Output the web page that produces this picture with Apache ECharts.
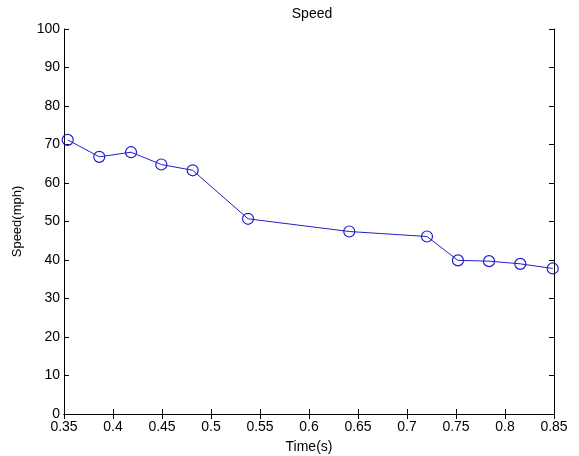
<!DOCTYPE html>
<html><head><meta charset="utf-8">
<script src="https://cdn.jsdelivr.net/npm/echarts@6/dist/echarts.min.js"></script>
<style>html,body{margin:0;padding:0;background:#fff}#c{width:579px;height:456px}</style>
</head><body><div id="c"></div>
<script>
var timeS = [0.3538, 0.386, 0.4184, 0.4493, 0.4813, 0.5378, 0.6411, 0.7204, 0.752, 0.7837, 0.8156, 0.8487];
var speedMph = [71.2, 66.8, 68.0, 64.8, 63.3, 50.7, 47.4, 46.1, 39.9, 39.7, 39.0, 37.8];
var xTicks = [0.35, 0.85, 0.05];
var yTicks = [0, 100, 10];

var data = timeS.map(function (t, i) { return [t, speedMph[i]]; });
var font = 'Liberation Sans, Arial, sans-serif';
var blue = '#2020c8';
function axisCommon(show) {
  return {
    axisLine: { show: true, lineStyle: { color: '#000', width: 1 } },
    axisTick: { show: true, inside: true, length: 5, lineStyle: { color: '#000' } },
    axisLabel: { show: show, color: '#000', fontFamily: font, fontSize: 14 },
    splitLine: { show: false }
  };
}
var chart = echarts.init(document.getElementById('c'), null, { renderer: 'canvas' });
chart.setOption({
  animation: false,
  backgroundColor: '#fff',
  title: { text: 'Speed', left: 307, top: 2, textAlign: 'center',
    textStyle: { fontFamily: font, fontSize: 14, fontWeight: 'normal', color: '#000' } },
  grid: { left: 64, right: 25, top: 29, bottom: 42, outerBoundsMode: 'none', containLabel: false },
  xAxis: [
    Object.assign(axisCommon(true), { type: 'value', min: xTicks[0], max: xTicks[1], interval: xTicks[2],
      name: 'Time(s)', nameLocation: 'middle', nameGap: 26,
      nameTextStyle: { fontFamily: font, fontSize: 14, color: '#000' },
      axisLabel: { show: true, color: '#000', fontFamily: font, fontSize: 14, margin: 6,
        formatter: function (v) { return String(+v.toFixed(2)); } } }),
    Object.assign(axisCommon(false), { type: 'value', position: 'top', min: xTicks[0], max: xTicks[1], interval: xTicks[2] })
  ],
  yAxis: [
    Object.assign(axisCommon(true), { type: 'value', min: yTicks[0], max: yTicks[1], interval: yTicks[2],
      name: 'Speed(mph)', nameLocation: 'middle', nameGap: 40, nameRotate: 90,
      nameTextStyle: { fontFamily: font, fontSize: 13, color: '#000' },
      axisLabel: { show: true, color: '#000', fontFamily: font, fontSize: 14, margin: 4 } }),
    Object.assign(axisCommon(false), { type: 'value', position: 'right', min: yTicks[0], max: yTicks[1], interval: yTicks[2] })
  ],
  series: [{
    type: 'line', data: data, xAxisIndex: 0, yAxisIndex: 0,
    symbol: 'circle', symbolSize: 11,
    lineStyle: { color: blue, width: 1 },
    itemStyle: { color: 'rgba(0,0,0,0)', borderColor: blue, borderWidth: 1.2 },
    emphasis: { disabled: true }
  }]
});
</script></body></html>
